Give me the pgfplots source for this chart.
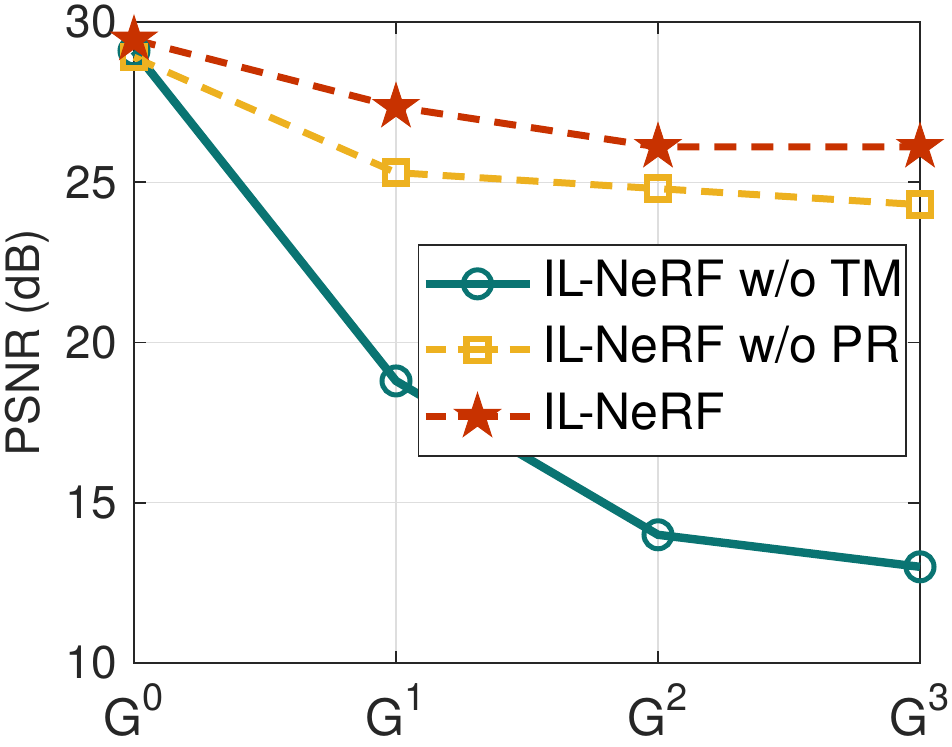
\documentclass[border=0pt]{standalone}
\usepackage{fontspec}
\setmainfont{TeX Gyre Heros}
\usepackage{pgfplots}
\pgfplotsset{compat=1.18}
\definecolor{cteal}{RGB}{10,116,114}
\definecolor{corange}{RGB}{237,177,32}
\definecolor{cred}{RGB}{200,50,0}
\definecolor{axgray}{RGB}{38,38,38}
\pgfdeclareplotmark{fstar}{%
  \pgfpathmoveto{\pgfpointpolar{90}{\pgfplotmarksize}}%
  \pgfpathlineto{\pgfpointpolar{126}{0.382\pgfplotmarksize}}%
  \pgfpathlineto{\pgfpointpolar{162}{\pgfplotmarksize}}%
  \pgfpathlineto{\pgfpointpolar{198}{0.382\pgfplotmarksize}}%
  \pgfpathlineto{\pgfpointpolar{234}{\pgfplotmarksize}}%
  \pgfpathlineto{\pgfpointpolar{270}{0.382\pgfplotmarksize}}%
  \pgfpathlineto{\pgfpointpolar{306}{\pgfplotmarksize}}%
  \pgfpathlineto{\pgfpointpolar{342}{0.382\pgfplotmarksize}}%
  \pgfpathlineto{\pgfpointpolar{18}{\pgfplotmarksize}}%
  \pgfpathlineto{\pgfpointpolar{54}{0.382\pgfplotmarksize}}%
  \pgfpathclose
  \pgfusepathqfillstroke
}
\pgfplotsset{
  solidleg/.style={legend image code/.code={\draw[mark repeat=2,mark phase=2,##1] plot coordinates {(0pt,0pt)(26pt,0pt)(52pt,0pt)};}},
  dashleg/.style={legend image code/.code={\draw[mark repeat=2,mark phase=2,##1, dash pattern=on 10pt off 6pt on 20pt off 6pt on 10pt] plot coordinates {(0pt,0pt)(26pt,0pt)(52pt,0pt)};}},
}
\newcommand{\Gl}[1]{{\fontsize{25}{30}\selectfont G}\raisebox{12.5pt}{\fontsize{19}{19}\selectfont #1}}
\begin{document}
\begin{tikzpicture}
\begin{axis}[name=ax, scale only axis, width=393pt, height=320.5pt,
  xmin=0, xmax=3, ymin=10, ymax=30,
  xtick={0,1,2,3}, xticklabels={\Gl{0},\Gl{1},\Gl{2},\Gl{3}},
  ytick={10,15,20,25,30},
  grid=major, grid style={black!13, line width=0.6pt},
  axis line style={axgray, line width=0.9pt},
  tick style={axgray, line width=0.9pt},
  major tick length=6pt, tick align=inside,
  ticklabel style={font=\fontsize{23}{27}\selectfont, text=axgray},
  /pgf/number format/assume math mode=true,
  yticklabel style={inner sep=0pt, xshift=-8.5pt},
  xticklabel style={inner sep=0pt, yshift=-10pt},
  ylabel={PSNR (dB)},
  ylabel style={font=\fontsize{23}{27}\selectfont, text=axgray, at={(axis description cs:-0.107,0.5)}, anchor=south, inner sep=0pt},
  clip=false,
  legend style={at={(axis cs:2.95,23.07)}, anchor=north east, draw=axgray, line width=0.75pt,
    font=\fontsize{25}{30}\selectfont, inner xsep=1.5pt, inner ysep=8pt,
    nodes={inner sep=0pt, text height=18pt, text depth=5pt}, row sep=10pt, column sep=4.5pt},
  legend cell align=left,
]
\addplot[cteal, line width=4.2pt, mark=o, mark size=7pt, mark options={solid, line width=2.5pt}, solidleg]
  coordinates {(0,29.1) (1,18.8) (2,14.0) (3,13.0)};
\addlegendentry{IL-NeRF w/o TM}
\addplot[corange, line width=3.5pt, dash pattern=on 11pt off 7.5pt, mark=square, mark size=5.5pt, mark options={solid, line width=3.2pt}, dashleg]
  coordinates {(0,28.9) (1,25.3) (2,24.8) (3,24.3)};
\addlegendentry{IL-NeRF w/o PR}
\addplot[cred, line width=3.5pt, dash pattern=on 11pt off 7.5pt, mark=fstar, mark size=12pt, mark options={solid, fill=cred, line width=0.5pt}, dashleg]
  coordinates {(0,29.45) (1,27.35) (2,26.1) (3,26.1)};
\addlegendentry{IL-NeRF}
\end{axis}
\pgfresetboundingbox
\path ([xshift=-67pt,yshift=-42pt]ax.south west) rectangle ([xshift=16pt,yshift=11pt]ax.north east);
\end{tikzpicture}
\end{document}
